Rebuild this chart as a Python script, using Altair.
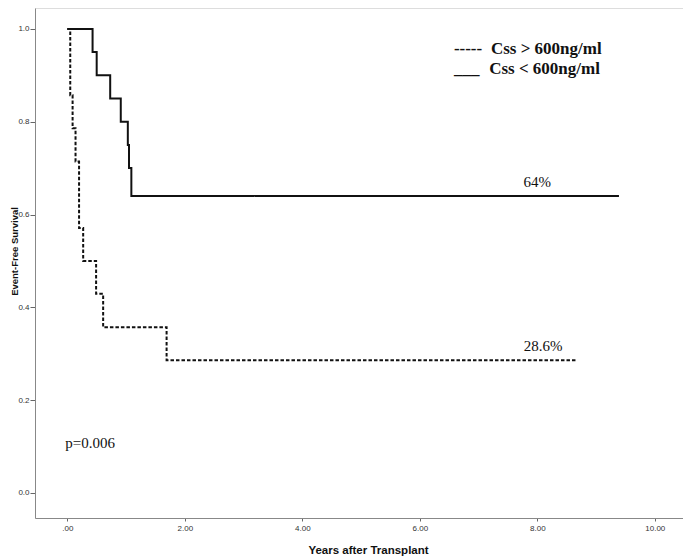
import altair as alt
import pandas as pd

# Kaplan-Meier step data
low_times = [0.0, 0.43, 0.50, 0.73, 0.91, 1.03, 1.05, 1.09, 9.39]
low_surv = [1.0, 0.95, 0.90, 0.85, 0.80, 0.75, 0.70, 0.64, 0.64]
high_times = [0.0, 0.05, 0.09, 0.14, 0.20, 0.27, 0.49, 0.61, 1.69, 8.67]
high_surv = [1.0, 0.857, 0.786, 0.714, 0.571, 0.50, 0.429, 0.357, 0.286, 0.286]
groups = ["Css > 600ng/ml", "Css < 600ng/ml"]

# annotations (data coordinates)
note_text = ["64%", "28.6%", "p=0.006"]
note_x = [8.0, 8.1, 0.39]
note_y = [0.67, 0.316, 0.108]

legend_key = ["-----", "___"]
legend_x_key = [6.58, 6.58]
legend_x_text = [7.21, 7.18]
legend_y = [0.957, 0.914]

x_ticks = [0, 2, 4, 6, 8, 10]
y_ticks = [0.0, 0.2, 0.4, 0.6, 0.8, 1.0]

rows = []
for t, s in zip(high_times, high_surv):
    rows.append({"group": groups[0], "t": t, "s": s})
for t, s in zip(low_times, low_surv):
    rows.append({"group": groups[1], "t": t, "s": s})
df = pd.DataFrame(rows)

notes = pd.DataFrame({"label": note_text, "x": note_x, "y": note_y})
leg = pd.DataFrame({"key": legend_key, "label": groups, "xk": legend_x_key,
                    "xt": legend_x_text, "y": legend_y})

xscale = alt.Scale(domain=[-0.55, 10.48], nice=False, zero=False)
yscale = alt.Scale(domain=[-0.054, 1.045], nice=False, zero=False)

lines = alt.Chart(df).mark_line(interpolate="step-after", strokeWidth=2, color="#111").encode(
    x=alt.X("t:Q", scale=xscale,
            axis=alt.Axis(values=x_ticks, title="Years after Transplant",
                          labelExpr="datum.value == 0 ? '.00' : format(datum.value, '.2f')",
                          grid=False, tickSize=3, labelPadding=3, labelFontSize=8,
                          labelColor="#333", labelFont="Liberation Sans",
                          domainColor="#888", tickColor="#666",
                          titleFont="Liberation Sans", titleFontSize=11.5, titleFontWeight="bold",
                          titleColor="#111", titleX=333, titleY=32, titleBaseline="middle",
                          titleAlign="center")),
    y=alt.Y("s:Q", scale=yscale,
            axis=alt.Axis(values=y_ticks, format=".1f", title="Event-Free Survival",
                          grid=False, tickSize=5, labelPadding=1, labelFontSize=8,
                          labelColor="#333", labelFont="Liberation Sans",
                          domainColor="#888", tickColor="#666",
                          titleFont="Liberation Sans", titleFontSize=9.5, titleFontWeight="bold",
                          titleColor="#111", titleX=-21, titleY=243, titleAngle=270,
                          titleBaseline="middle", titleAlign="center")),
    strokeDash=alt.StrokeDash("group:N",
                              scale=alt.Scale(domain=groups, range=[[3.5, 2], [1, 0]]),
                              legend=None),
    detail="group:N",
)

note_marks = alt.Chart(notes).mark_text(font="Liberation Serif", fontSize=15, color="#111",
                                        align="center", baseline="middle").encode(
    x=alt.X("x:Q", scale=xscale), y=alt.Y("y:Q", scale=yscale), text="label:N")

leg_key = alt.Chart(leg).mark_text(font="Liberation Serif", fontSize=17, fontWeight="bold",
                                   color="#111", align="left", baseline="middle").encode(
    x=alt.X("xk:Q", scale=xscale), y=alt.Y("y:Q", scale=yscale), text="key:N")

leg_text = alt.Chart(leg).mark_text(font="Liberation Serif", fontSize=17, fontWeight="bold",
                                    color="#111", align="left", baseline="middle").encode(
    x=alt.X("xt:Q", scale=xscale), y=alt.Y("y:Q", scale=yscale), text="label:N")

chart = alt.layer(lines, note_marks, leg_key, leg_text).properties(
    width=648, height=510,
    autosize=alt.AutoSizeParams(type="none"),
    padding={"left": 27, "top": 0, "right": 0, "bottom": 41},
).configure_view(stroke=None).configure(background="white")

chart.save("out.html", embed_options={"renderer": "svg", "actions": False})
